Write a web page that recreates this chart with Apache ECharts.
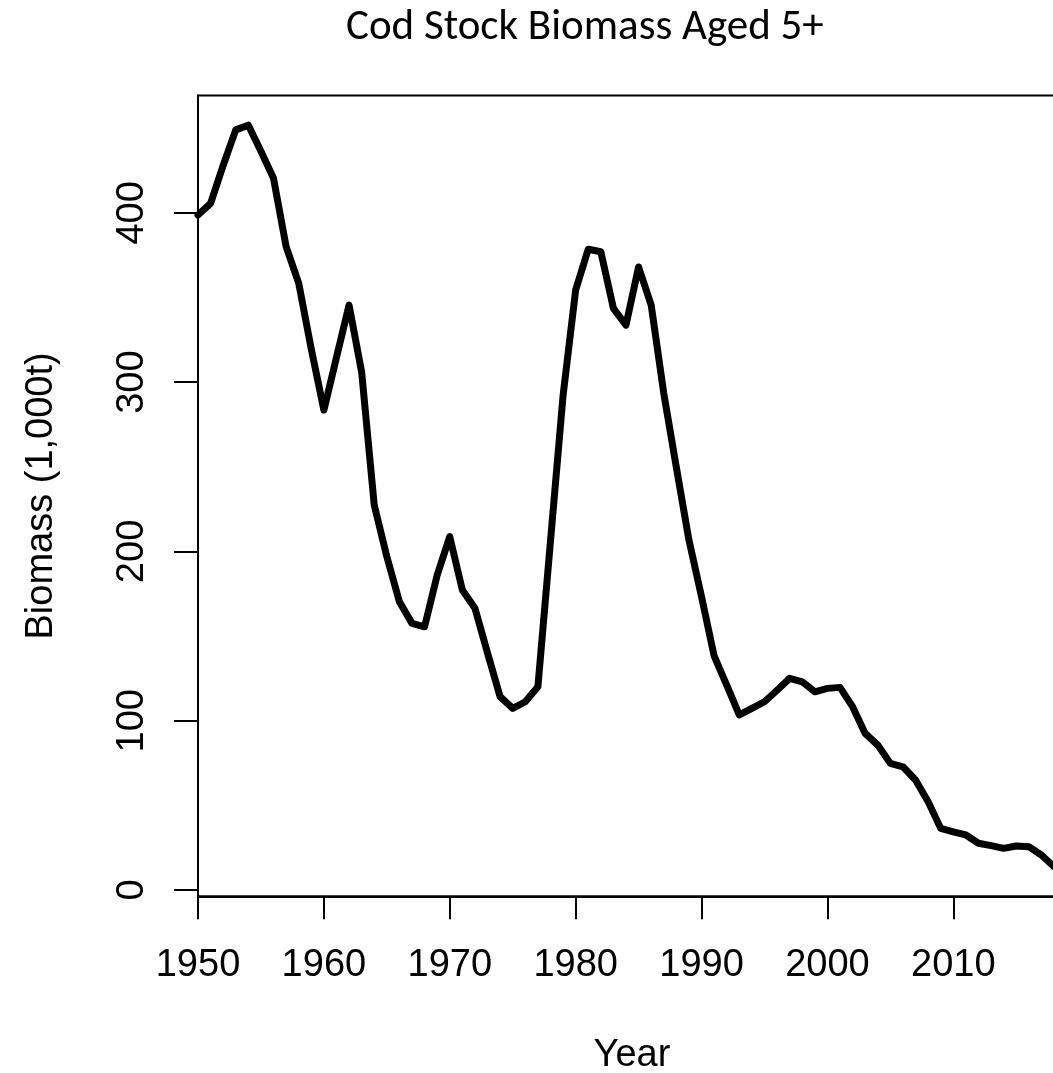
<!DOCTYPE html>
<html>
<head>
<meta charset="utf-8">
<title>Cod Stock Biomass Aged 5+</title>
<script src="https://cdn.jsdelivr.net/npm/echarts@6/dist/echarts.min.js"></script>
<style>
  html, body { margin: 0; padding: 0; background: #ffffff; }
  #chart { width: 1053px; height: 1073px; }
</style>
</head>
<body>
<div id="chart"></div>
<script>
// Survey years
const years = [
  1950, 1951, 1952, 1953, 1954, 1955, 1956, 1957, 1958, 1959,
  1960, 1961, 1962, 1963, 1964, 1965, 1966, 1967, 1968, 1969,
  1970, 1971, 1972, 1973, 1974, 1975, 1976, 1977, 1978, 1979,
  1980, 1981, 1982, 1983, 1984, 1985, 1986, 1987, 1988, 1989,
  1990, 1991, 1992, 1993, 1994, 1995, 1996, 1997, 1998, 1999,
  2000, 2001, 2002, 2003, 2004, 2005, 2006, 2007, 2008, 2009,
  2010, 2011, 2012, 2013, 2014, 2015, 2016, 2017, 2018
];

// Biomass of cod aged 5 and older, thousand tonnes
const biomass = [
  398.7, 405.6, 428.0, 449.0, 451.8, 436.4, 420.4, 380.0, 358.5, 319.5,
  283.5, 314.6, 345.5, 306.0, 227.4, 196.9, 170.3, 157.5, 155.5, 186.0,
  208.7, 177.2, 166.4, 140.0, 114.2, 107.3, 111.2, 120.0, 206.0, 292.0,
  354.4, 378.5, 377.0, 343.6, 333.7, 368.0, 345.5, 293.4, 249.6, 206.7,
  173.2, 138.3, 121.0, 103.4, 107.3, 111.2, 118.0, 125.0, 123.0, 117.1,
  119.1, 119.7, 108.3, 92.5, 85.6, 74.8, 72.8, 65.0, 52.2, 36.4,
  34.4, 32.5, 27.6, 26.2, 24.6, 26.0, 25.6, 20.7, 13.8
];

// Axis tick positions
const yearTicks = [1950, 1960, 1970, 1980, 1990, 2000, 2010];
const biomassTicks = [0, 100, 200, 300, 400];

// Value range padded by 4% on each side, as in a classic base-graphics plot
const lo = Math.min(...biomass);
const hi = Math.max(...biomass);
const pad = (hi - lo) * 0.04;

const labelFont = '"Liberation Sans", Arial, Helvetica, sans-serif';

const chart = echarts.init(document.getElementById('chart'), null, { renderer: 'canvas' });

chart.setOption({
  backgroundColor: '#ffffff',
  animation: false,
  title: {
    text: 'Cod Stock Biomass Aged 5+',
    left: 341,
    top: 2,
    textStyle: {
      fontFamily: 'Carlito, Lato, "Open Sans", sans-serif',
      fontWeight: 'normal',
      fontSize: 43,
      color: '#000000'
    }
  },
  grid: {
    left: 198,
    top: 95.5,
    width: 856,
    height: 800.8,
    show: true,
    borderColor: '#000000',
    borderWidth: 2,
    backgroundColor: 'transparent',
    containLabel: false,
    outerBoundsMode: 'none'
  },
  xAxis: {
    type: 'value',
    min: 1950,
    max: 2018,
    interval: 10,
    name: 'Year',
    nameLocation: 'middle',
    nameGap: 140,
    nameTextStyle: {
      fontFamily: labelFont,
      fontSize: 38,
      color: '#000000',
      padding: [0, 0, 0, 12]
    },
    axisLine: { show: true, onZero: false, lineStyle: { color: '#000000', width: 2 } },
    axisTick: {
      show: true,
      inside: false,
      length: 23,
      lineStyle: { color: '#000000', width: 2 },
      customValues: yearTicks
    },
    axisLabel: {
      show: true,
      margin: 50,
      fontFamily: labelFont,
      fontSize: 38,
      color: '#000000',
      customValues: yearTicks,
      formatter: (v) => String(v)
    },
    splitLine: { show: false }
  },
  yAxis: {
    type: 'value',
    min: lo - pad,
    max: hi + pad,
    name: 'Biomass (1,000t)',
    nameLocation: 'middle',
    nameGap: 137,
    nameRotate: 90,
    nameTextStyle: { fontFamily: labelFont, fontSize: 38, color: '#000000' },
    axisLine: { show: true, onZero: false, lineStyle: { color: '#000000', width: 2 } },
    axisTick: {
      show: true,
      inside: false,
      length: 24,
      lineStyle: { color: '#000000', width: 2 },
      customValues: biomassTicks
    },
    axisLabel: {
      show: true,
      rotate: 90,
      margin: 46,
      fontFamily: labelFont,
      fontSize: 38,
      color: '#000000',
      customValues: biomassTicks,
      formatter: (v) => String(v)
    },
    splitLine: { show: false }
  },
  series: [
    {
      type: 'line',
      data: years.map((y, i) => [y, biomass[i]]),
      showSymbol: false,
      clip: true,
      lineStyle: { color: '#000000', width: 7, join: 'round', cap: 'round' }
    }
  ]
});
</script>
</body>
</html>
